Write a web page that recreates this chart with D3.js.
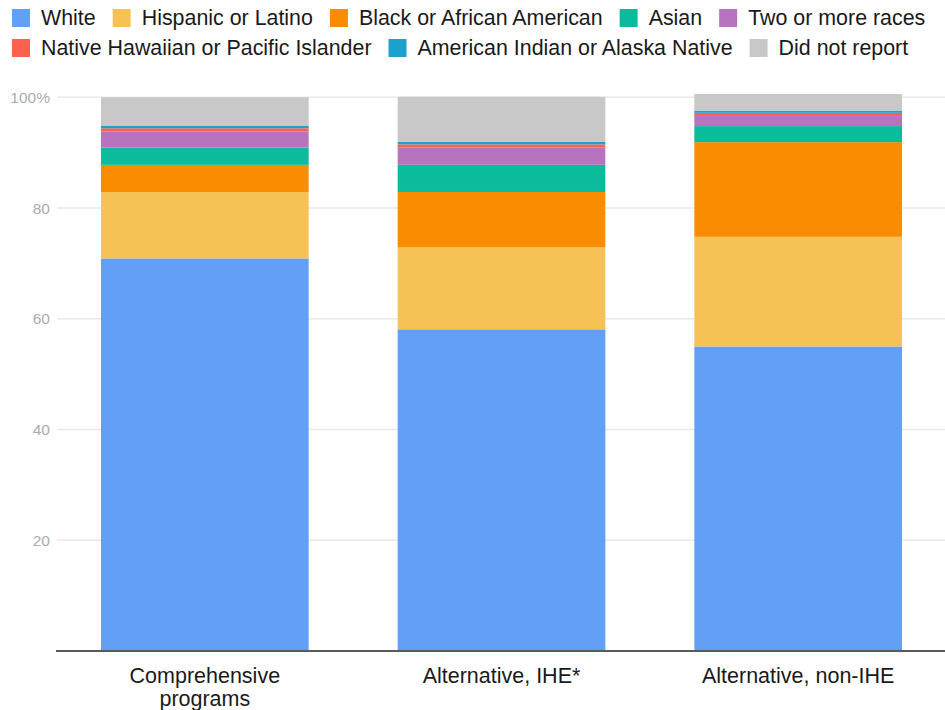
<!DOCTYPE html>
<html>
<head>
<meta charset="utf-8">
<script src="https://cdn.jsdelivr.net/npm/d3@7"></script>
<style>
  html, body { margin: 0; padding: 0; background: #fff; }
  svg { display: block; }
  text { font-family: "Liberation Sans", Arial, Helvetica, sans-serif; }
</style>
</head>
<body>
<svg id="chart" width="945" height="710"></svg>
<script>
// ---- data ----
const categories = ["Comprehensive programs", "Alternative, IHE*", "Alternative, non-IHE"];
const seriesNames = ["White", "Hispanic or Latino", "Black or African American", "Asian",
  "Two or more races", "Native Hawaiian or Pacific Islander", "American Indian or Alaska Native", "Did not report"];
const white      = [70.9, 58.1, 55.0];
const hispanic   = [12.0, 14.8, 19.8];
const black      = [4.9, 10.0, 17.1];
const asian      = [3.1, 4.9, 2.9];
const twoOrMore  = [2.9, 3.1, 2.0];
const nhpi       = [0.6, 0.6, 0.4];
const aian       = [0.5, 0.5, 0.4];
const didNotReport = [5.1, 8.1, 3.0];
const yTicks = [20, 40, 60, 80, 100];
const seriesColors = ["#63a0f5", "#f6c155", "#f98c00", "#0bbc9c", "#b873be", "#fd6150", "#1ba1cc", "#c8c8c8"];

const seriesValues = [white, hispanic, black, asian, twoOrMore, nhpi, aian, didNotReport];
const table = categories.map((c, i) => {
  const row = { category: c };
  seriesNames.forEach((s, k) => row[s] = seriesValues[k][i]);
  return row;
});

// ---- layout ----
const svg = d3.select("#chart");
const W = 945;
const x = d3.scaleBand().domain(categories).range([56.5, 946.5]).paddingInner(0.3).paddingOuter(0.15);
const y = d3.scaleLinear().domain([0, 100]).range([651, 97.3]);
const color = d3.scaleOrdinal().domain(seriesNames).range(seriesColors);

// gridlines
svg.append("g").selectAll("line").data(yTicks).join("line")
  .attr("x1", 57).attr("x2", W)
  .attr("y1", d => y(d)).attr("y2", d => y(d))
  .attr("stroke", "#e8e8e8").attr("stroke-width", 1.5);

// y tick labels
svg.append("g").selectAll("text").data(yTicks).join("text")
  .attr("x", 50).attr("y", d => y(d)).attr("dy", "0.36em")
  .attr("text-anchor", "end")
  .attr("font-size", 15.5).attr("fill", "#ababab")
  .text(d => d === 100 ? "100%" : d);

// stacked bars
const stack = d3.stack().keys(seriesNames)(table);
svg.append("g").selectAll("g").data(stack).join("g")
  .attr("fill", d => color(d.key))
  .selectAll("rect").data(d => d).join("rect")
  .attr("x", d => x(d.data.category))
  .attr("width", x.bandwidth())
  .attr("y", d => y(d[1]))
  .attr("height", d => y(d[0]) - y(d[1]));

// baseline axis
svg.append("line")
  .attr("x1", 56).attr("x2", W)
  .attr("y1", y(0)).attr("y2", y(0))
  .attr("stroke", "#5a5a5a").attr("stroke-width", 2);

// x labels (wrapped)
const xLabelLines = { "Comprehensive programs": ["Comprehensive", "programs"] };
svg.append("g").selectAll("text").data(categories).join("text")
  .attr("x", d => x(d) + x.bandwidth() / 2)
  .attr("y", 683)
  .attr("text-anchor", "middle")
  .attr("font-size", 21.5).attr("fill", "#1a1a1a")
  .each(function(d) {
    const lines = xLabelLines[d] || [d];
    d3.select(this).selectAll("tspan").data(lines).join("tspan")
      .attr("x", x(d) + x.bandwidth() / 2)
      .attr("dy", (l, i) => i === 0 ? 0 : 23)
      .text(l => l);
  });

// legend
const legendRows = [seriesNames.slice(0, 5), seriesNames.slice(5)];
legendRows.forEach((row, r) => {
  let cx = 12;
  const baseY = 25 + r * 30;
  row.forEach(name => {
    const g = svg.append("g");
    g.append("rect").attr("x", cx).attr("y", baseY - 16).attr("width", 18).attr("height", 18)
      .attr("fill", color(name));
    const t = g.append("text").attr("x", cx + 29).attr("y", baseY)
      .attr("font-size", 21.4).attr("fill", "#1a1a1a").text(name);
    const w = t.node().getComputedTextLength();
    cx = cx + 29 + w + 17;
  });
});
</script>
</body>
</html>
